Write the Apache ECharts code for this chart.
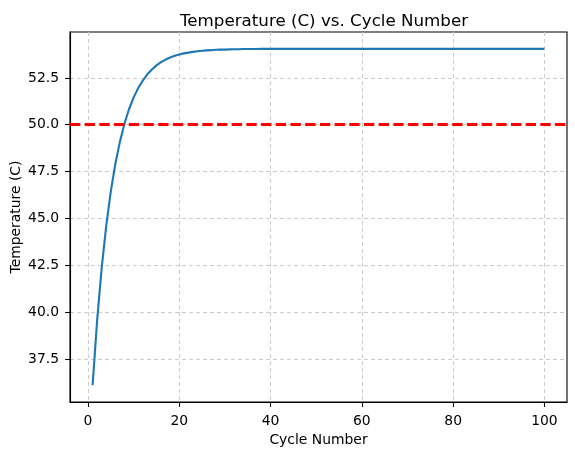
<!DOCTYPE html>
<html>
<head>
<meta charset="utf-8">
<title>Temperature (C) vs. Cycle Number</title>
<script src="https://cdn.jsdelivr.net/npm/echarts@6/dist/echarts.min.js"></script>
<style>
    html, body{
        margin: 0;
        padding: 0;
        background-color: #fff;
    }
    #chart{
        width: 575px;
        height: 455px;
    }
</style>
</head>
<body>
<div id="chart"></div>
<script>
    // values, cycle 1..100
    var cycles = [];
    for (var i = 1; i <= 100; i++) cycles.push(i);
    var temps = [
        36.10, 39.57, 42.37, 44.63, 46.46, 47.93, 49.11, 50.07, 50.84, 51.46,
        51.96, 52.36, 52.69, 52.95, 53.17, 53.34, 53.48, 53.59, 53.68, 53.75,
        53.81, 53.85, 53.89, 53.92, 53.95, 53.97, 53.98, 54.00, 54.01, 54.01,
        54.02, 54.03, 54.03, 54.04, 54.04, 54.04, 54.04, 54.05, 54.05, 54.05,
        54.05, 54.05, 54.05, 54.05, 54.05, 54.05, 54.05, 54.05, 54.05, 54.05,
        54.05, 54.05, 54.05, 54.05, 54.05, 54.05, 54.05, 54.05, 54.05, 54.05,
        54.05, 54.05, 54.05, 54.05, 54.05, 54.05, 54.05, 54.05, 54.05, 54.05,
        54.05, 54.05, 54.05, 54.05, 54.05, 54.05, 54.05, 54.05, 54.05, 54.05,
        54.05, 54.05, 54.05, 54.05, 54.05, 54.05, 54.05, 54.05, 54.05, 54.05,
        54.05, 54.05, 54.05, 54.05, 54.05, 54.05, 54.05, 54.05, 54.05, 54.05
    ];
    var threshold = 50;
    var xTicks = [0, 20, 40, 60, 80, 100];
    var yTicks = [37.5, 40.0, 42.5, 45.0, 47.5, 50.0, 52.5];

    var font = 'DejaVu Sans';
    var gridLine = {show: true, lineStyle: {color: '#cccccc', width: 1, type: [4, 3]}};

    var myChart = echarts.init(document.getElementById('chart'));
    var option = {
        animation: false,
        title: {
            text: 'Temperature (C) vs. Cycle Number',
            left: 319,
            textAlign: 'center',
            top: 8,
            textStyle: {fontFamily: font, fontSize: 16.7, fontWeight: 'normal', color: '#000'}
        },
        grid: {
            left: 70, right: 8, top: 32, bottom: 53,
            show: true, borderColor: '#000', borderWidth: 1.1,
            containLabel: false,
            outerBoundsMode: 'none'
        },
        xAxis: {
            type: 'value',
            min: -3.95,
            max: 104.95,
            name: 'Cycle Number',
            nameLocation: 'middle',
            nameGap: 29,
            nameTextStyle: {fontFamily: font, fontSize: 13.9, color: '#000'},
            axisLine: {show: true, onZero: false, lineStyle: {color: '#000', width: 1.1}},
            axisTick: {show: true, length: 4.9, lineStyle: {color: '#000', width: 1.1}, customValues: xTicks},
            axisLabel: {fontFamily: font, fontSize: 13.9, color: '#000', margin: 12, customValues: xTicks},
            splitLine: gridLine
        },
        yAxis: {
            type: 'value',
            min: 35.2,
            max: 54.95,
            name: 'Temperature (C)',
            nameLocation: 'middle',
            nameGap: 47,
            nameMoveOverlap: false,
            nameTextStyle: {fontFamily: font, fontSize: 13.9, color: '#000'},
            axisLine: {show: true, onZero: false, lineStyle: {color: '#000', width: 1.1}},
            axisTick: {show: true, length: 4.9, lineStyle: {color: '#000', width: 1.1}, customValues: yTicks},
            axisLabel: {
                fontFamily: font, fontSize: 13.9, color: '#000', margin: 11, customValues: yTicks,
                formatter: function (v) { return v.toFixed(1); }
            },
            splitLine: gridLine
        },
        series: [{
            type: 'line',
            data: cycles.map(function (c, i) { return [c, temps[i]]; }),
            showSymbol: false,
            lineStyle: {color: '#1f77b4', width: 2.1},
            markLine: {
                silent: true,
                symbol: 'none',
                label: {show: false},
                lineStyle: {color: '#ff0000', width: 2.8, type: [10.3, 4.4]},
                data: [{yAxis: threshold}]
            }
        }]
    };
    myChart.setOption(option);
</script>
</body>
</html>
